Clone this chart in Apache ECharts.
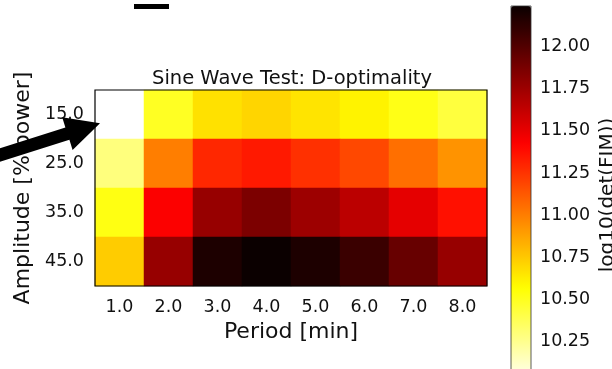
<!DOCTYPE html>
<html>
<head>
<meta charset="utf-8">
<script src="https://cdn.jsdelivr.net/npm/echarts@6/dist/echarts.min.js"></script>
<style>
  html, body { margin: 0; padding: 0; background: #fff; }
  #chart { width: 612px; height: 369px; }
</style>
</head>
<body>
<div id="chart"></div>
<script>
// period (x) and amplitude (y) categories
var periods = ['1.0', '2.0', '3.0', '4.0', '5.0', '6.0', '7.0', '8.0'];
var amplitudes = ['15.0', '25.0', '35.0', '45.0'];

// log10(det(FIM)) per amplitude row
var amp15 = [10.00, 10.49, 10.67, 10.71, 10.66, 10.61, 10.52, 10.43];
var amp25 = [10.29, 11.00, 11.29, 11.34, 11.26, 11.18, 11.05, 10.93];
var amp35 = [10.53, 11.43, 11.77, 11.86, 11.75, 11.65, 11.51, 11.37];
var amp45 = [10.74, 11.77, 12.18, 12.24, 12.18, 12.08, 11.93, 11.77];
var rows = [amp15, amp25, amp35, amp45];

var vMin = 10.0, vMax = 12.24;

var cells = [];
rows.forEach(function (row, j) {
  row.forEach(function (v, i) { cells.push([i, j, v]); });
});

// matplotlib 'hot_r' as a colour list
function hot(s) {
  var r = s < 0.365079 ? 0.0416 + (1 - 0.0416) * s / 0.365079 : 1;
  var g = s < 0.365079 ? 0 : (s < 0.746032 ? (s - 0.365079) / (0.746032 - 0.365079) : 1);
  var b = s < 0.746032 ? 0 : (s - 0.746032) / (1 - 0.746032);
  return 'rgb(' + Math.round(r * 255) + ',' + Math.round(g * 255) + ',' + Math.round(b * 255) + ')';
}
var hotR = [];
for (var k = 0; k <= 64; k++) hotR.push(hot(1 - k / 64));

var font = 'DejaVu Sans';
var txt = '#111';

var myChart = echarts.init(document.getElementById('chart'));
myChart.setOption({
  backgroundColor: '#fff',
  animation: false,
  title: {
    text: 'Sine Wave Test: D-optimality',
    left: 147, top: 64,
    textStyle: { fontFamily: font, fontSize: 19.5, fontWeight: 'normal', color: txt }
  },
  grid: [
    { left: 95, top: 90, width: 392, height: 196, outerBoundsMode: 'none', containLabel: false },
    { left: 511, top: 6, width: 20, height: 378, outerBoundsMode: 'none', containLabel: false }
  ],
  xAxis: [{
    type: 'category', data: periods, gridIndex: 0,
    name: 'Period [min]', nameLocation: 'middle', nameGap: 33,
    nameTextStyle: { fontFamily: font, fontSize: 22, color: txt },
    axisLine: { show: false },
    axisTick: { alignWithLabel: true, length: 6, lineStyle: { color: '#000' } },
    axisLabel: { fontFamily: font, fontSize: 17.5, color: txt, margin: 12 },
    splitLine: { show: false }
  }, {
    type: 'value', gridIndex: 1, show: false, min: 0, max: 1
  }],
  yAxis: [{
    type: 'category', data: amplitudes, gridIndex: 0, inverse: true,
    name: 'Amplitude [% power]', nameLocation: 'middle', nameGap: 59,
    nameTextStyle: { fontFamily: font, fontSize: 22, color: txt },
    axisLine: { show: false },
    axisTick: { alignWithLabel: true, length: 6, lineStyle: { color: '#000' } },
    axisLabel: { fontFamily: font, fontSize: 17.5, color: txt, margin: 11 },
    splitLine: { show: false }
  }, {
    type: 'value', gridIndex: 1, position: 'right',
    min: vMin, max: vMax, interval: 0.25,
    name: 'log10(det(FIM))', nameLocation: 'middle', nameGap: 67,
    nameTextStyle: { fontFamily: font, fontSize: 20, color: txt },
    axisLine: { show: false },
    axisTick: { show: true, length: 5, lineStyle: { color: '#000' } },
    axisLabel: {
      fontFamily: font, fontSize: 17.5, color: txt, margin: 9,
      showMinLabel: false, showMaxLabel: false,
      formatter: function (v) { return v.toFixed(2); }
    },
    splitLine: { show: false }
  }],
  visualMap: {
    type: 'continuous', min: vMin, max: vMax, seriesIndex: 0, dimension: 2,
    calculable: false, orient: 'vertical', left: 511, top: 6, padding: 0,
    itemWidth: 20, itemHeight: 378, text: null, showLabel: false,
    inRange: { color: hotR }
  },
  graphic: [
    // outline of the plot area and of the colour bar
    { type: 'rect', shape: { x: 95, y: 90, width: 392, height: 196 }, z: 10,
      style: { fill: 'none', stroke: '#000', lineWidth: 1.2 } },
    { type: 'rect', shape: { x: 511, y: 6, width: 20, height: 378 }, z: 10,
      style: { fill: 'none', stroke: '#333', lineWidth: 0.8 } },
    // annotation arrow pointing at the best cell
    { type: 'polygon', z: 20,
      shape: { points: [[-12, 152], [65.4, 127.4], [62.2, 117.2], [100, 123.3],
                        [72.6, 150.0], [69.4, 139.8], [-8, 164.4]] },
      style: { fill: '#000' } },
    // stray dash at the top
    { type: 'rect', shape: { x: 134, y: 4, width: 35, height: 5 }, style: { fill: '#000' } }
  ],
  series: [{
    type: 'heatmap', xAxisIndex: 0, yAxisIndex: 0,
    data: cells,
    emphasis: { disabled: true },
    itemStyle: { borderWidth: 0 }
  }]
});
</script>
</body>
</html>
